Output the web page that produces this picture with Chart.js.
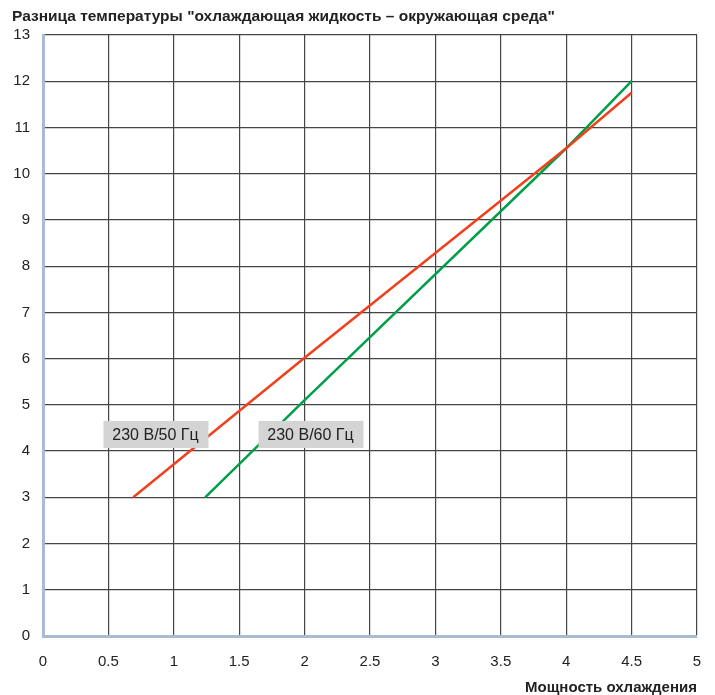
<!DOCTYPE html>
<html>
<head>
<meta charset="utf-8">
<script src="https://cdn.jsdelivr.net/npm/chart.js@4"></script>
<style>
	html, body { margin: 0; padding: 0; background: #fff; }
	#wrap { width: 715px; height: 695px; }
</style>
</head>
<body>
<div id="wrap"><canvas id="chart"></canvas></div>
<script>
// Axis ticks
const xTicks = [0, 0.5, 1, 1.5, 2, 2.5, 3, 3.5, 4, 4.5, 5];
const yTicks = [0, 1, 2, 3, 4, 5, 6, 7, 8, 9, 10, 11, 12, 13];

// Series (x = cooling power, y = temperature difference)
const red50 = [
	{ x: 0.69, y: 3.0 },
	{ x: 2.0, y: 6.02 },
	{ x: 4.0, y: 10.55 },
	{ x: 4.5, y: 11.75 },
];
const green60 = [
	{ x: 1.24, y: 3.0 },
	{ x: 2.0, y: 5.1 },
	{ x: 4.0, y: 10.55 },
	{ x: 4.5, y: 12.0 },
];

// Label boxes, centred at data positions
const labels = [
	{ text: "230 В/50 Гц", x: 0.86, y: 4.36 },
	{ text: "230 В/60 Гц", x: 2.045, y: 4.36 },
];

const titleText = 'Разница температуры "охлаждающая жидкость – окружающая среда"';
const xTitle = "Мощность охлаждения";

const font = "'Liberation Sans', Arial, sans-serif";

const extras = {
	id: "extras",
	afterDatasetsDraw(chart) {
		const ctx = chart.ctx;
		const xs = chart.scales.x;
		const ys = chart.scales.y;
		ctx.save();
		ctx.font = "16px 'Liberation Sans', Arial, sans-serif";
		ctx.textBaseline = "middle";
		ctx.textAlign = "center";
		labels.forEach((l) => {
			const cx = xs.getPixelForValue(l.x);
			const cy = ys.getPixelForValue(l.y);
			ctx.fillStyle = "#d4d4d4";
			ctx.fillRect(cx - 52, cy - 13.5, 105, 27);
			ctx.fillStyle = "#222";
			ctx.fillText(l.text, cx, cy + 1);
		});
		ctx.restore();
	},
	afterDraw(chart) {
		const ctx = chart.ctx;
		ctx.save();
		ctx.fillStyle = "#222";
		ctx.textBaseline = "middle";
		ctx.textAlign = "left";
		ctx.font = "bold 15.5px 'Liberation Sans', Arial, sans-serif";
		ctx.fillText(titleText, 12, 17);
		ctx.textAlign = "right";
		ctx.font = "bold 15px 'Liberation Sans', Arial, sans-serif";
		ctx.fillText(xTitle, 697, 688);
		ctx.restore();
	},
};

new Chart(document.getElementById("chart"), {
	type: "scatter",
	data: {
		datasets: [
			{
				label: "230 В/50 Гц",
				data: red50,
				showLine: true,
				borderColor: "#f0401e",
				borderWidth: 2.5,
				pointRadius: 0,
			},
			{
				label: "230 В/60 Гц",
				data: green60,
				showLine: true,
				borderColor: "#00a04a",
				borderWidth: 2.5,
				pointRadius: 0,
			},
		],
	},
	options: {
		responsive: true,
		maintainAspectRatio: false,
		animation: false,
		layout: { padding: { top: 35, right: 18, left: 0, bottom: 0 } },
		plugins: {
			legend: { display: false },
			tooltip: { enabled: false },
		},
		scales: {
			x: {
				type: "linear",
				min: 0,
				max: 5,
				afterBuildTicks: (s) => { s.ticks = xTicks.map((v) => ({ value: v })); },
				afterFit: (s) => {
					s.height = 59;
					s.paddingLeft = 0;
					s.paddingRight = 0;
				},
				grid: { color: "#454545", lineWidth: 1.2, drawTicks: false },
				border: { color: "#a9bbd1", width: 3 },
				ticks: {
					color: "#222",
					font: { size: 15, family: font },
					padding: 17,
					maxRotation: 0,
					autoSkip: false,
					callback: (v) => String(v),
				},
			},
			y: {
				type: "linear",
				min: 0,
				max: 13,
				afterBuildTicks: (s) => { s.ticks = yTicks.map((v) => ({ value: v })); },
				afterFit: (s) => {
					s.width = 43;
					s.paddingTop = 0;
					s.paddingBottom = 0;
				},
				grid: { color: "#454545", lineWidth: 1.2, drawTicks: false },
				border: { color: "#a9bbd1", width: 3 },
				ticks: {
					color: "#222",
					font: { size: 15, family: font },
					padding: 13,
					autoSkip: false,
				},
			},
		},
	},
	plugins: [extras],
});
</script>
</body>
</html>
